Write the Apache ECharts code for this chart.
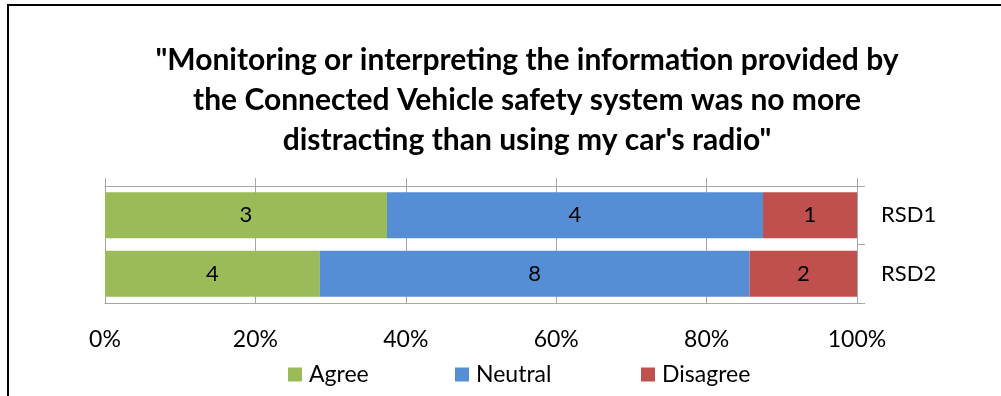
<!DOCTYPE html>
<html><head><meta charset="utf-8">
<script src="https://cdn.jsdelivr.net/npm/echarts@6/dist/echarts.min.js"></script>
<style>html,body{margin:0;padding:0;background:#fff}#c{width:1001px;height:396px}</style>
</head><body><div id="c"></div>
<script>
const categories = ['RSD1', 'RSD2'];
const agree = [3, 4];
const neutral = [4, 8];
const disagree = [1, 2];
const seriesNames = ['Agree', 'Neutral', 'Disagree'];
const tickLabels = ['0%', '20%', '40%', '60%', '80%', '100%'];
const titleText = '"Monitoring or interpreting the information provided by\nthe Connected Vehicle safety system was no more\ndistracting than using my car\'s radio"';

const totals = categories.map((_, i) => agree[i] + neutral[i] + disagree[i]);
const pct = arr => arr.map((v, i) => v / totals[i] * 100);
const counts = [agree, neutral, disagree];
const colors = ['#9BBB59', '#558ED5', '#C0504D'];
const FONT = 'Lato';
const FS = 23;

const chart = echarts.init(document.getElementById('c'), null, {renderer: 'canvas'});
const mk = (k) => ({
  name: seriesNames[k], type: 'bar', stack: 'all', barWidth: '79%',
  xAxisIndex: 0,
  data: pct(counts[k]),
  itemStyle: {color: colors[k]},
  label: {show: true, position: 'inside', color: '#000', fontSize: 22, fontFamily: FONT,
    formatter: p => String(counts[k][p.dataIndex])},
  emphasis: {disabled: true}
});
const legendAt = (k, x) => ({left: x, top: 363, padding: 0, itemWidth: 14, itemHeight: 14, icon: 'rect',
  textStyle: {fontFamily: FONT, fontSize: FS, color: '#000', padding: [0, 0, 0, 2]}, data: [seriesNames[k]]});
chart.setOption({
  animation: false,
  title: {text: titleText, left: 522, textAlign: 'center', top: 35,
    textStyle: {fontFamily: FONT, fontWeight: 'bold', fontSize: 30, lineHeight: 40, color: '#000'}},
  graphic: [{type: 'rect', shape: {x: 8, y: 5, width: 1100, height: 500},
    style: {fill: 'none', stroke: '#000', lineWidth: 2}, silent: true}],
  legend: [legendAt(0, 288), legendAt(1, 455), legendAt(2, 641)],
  grid: {left: 105, right: 144, top: 186, bottom: 93},
  xAxis: [{type: 'value', min: 0, max: 100, interval: 20, position: 'bottom',
    axisLine: {show: true, lineStyle: {color: '#A6A6A6'}},
    axisTick: {show: false},
    axisLabel: {formatter: v => tickLabels[v / 20], fontFamily: FONT, fontSize: FS, color: '#000', margin: 25},
    splitLine: {show: true, lineStyle: {color: '#A6A6A6'}}},
   {type: 'value', min: 0, max: 100, interval: 20, position: 'top',
    axisLine: {show: true, lineStyle: {color: '#A6A6A6'}},
    axisTick: {show: true, length: 8, lineStyle: {color: '#A6A6A6'}},
    axisLabel: {show: false}, splitLine: {show: false}}],
  yAxis: {type: 'category', data: categories, inverse: true, position: 'right',
    axisLine: {show: true, onZero: false, lineStyle: {color: '#A6A6A6'}},
    axisTick: {show: true, length: 8, lineStyle: {color: '#A6A6A6'}},
    axisLabel: {fontFamily: FONT, fontSize: 22, color: '#000', margin: 24}},
  series: [mk(0), mk(1), mk(2)]
});
</script></body></html>
